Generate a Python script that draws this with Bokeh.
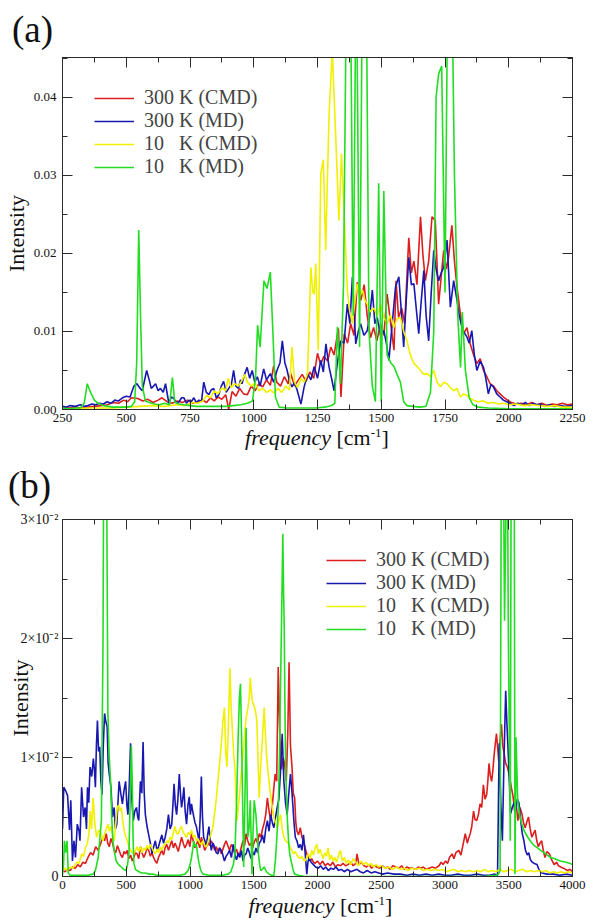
from bokeh.plotting import figure
from bokeh.models import (Legend, LegendItem, LinearAxis, SingleIntervalTicker, Div,
                          NumeralTickFormatter, CustomJSTickFormatter, Range1d, ColumnDataSource)
from bokeh.layouts import column
from bokeh.embed import file_html
from bokeh.resources import INLINE

FONT = "Liberation Serif"

SERIES_LABELS = ["300 K (CMD)", "300 K (MD)", "10\u00a0\u00a0\u00a0K (CMD)", "10\u00a0\u00a0\u00a0K (MD)"]
SERIES_COLORS = ["#dc1e1e", "#1818b0", "#f0f000", "#22dd22"]
Y_TITLE = "Intensity"
X_TITLE_ITALIC = "frequency"
X_TITLE_UNIT = "[cm"
X_TITLE_SUP = "-1"
PANEL_LETTERS = ["(a)", "(b)"]

# ---------------- panel (a): (frequency cm^-1, intensity) ----------------
RED_A = [(250,0.0003),(275,0.0002),(300,0.0003),(325,0.0002),(350,0.0003),(375,0.0004),(400,0.0005),
 (425,0.0006),(450,0.0009),(470,0.0008),(490,0.0012),(505,0.0010),(520,0.0015),(545,0.0014),(565,0.0011),
 (585,0.0013),(605,0.0009),(625,0.0012),(640,0.0015),(660,0.0010),(680,0.0008),(700,0.0011),(720,0.0009),
 (740,0.0012),(760,0.0008),(780,0.0010),(800,0.0012),(815,0.0009),(830,0.0015),(845,0.0011),(860,0.0016),
 (875,0.0013),(890,0.0019),(902,0.0000),(915,0.0023),(930,0.0017),(945,0.0027),(960,0.0020),(975,0.0019),
 (990,0.0030),(1005,0.0024),(1020,0.0033),(1035,0.0029),(1050,0.0038),(1065,0.0031),(1078,0.0056),
 (1090,0.0035),(1105,0.0030),(1120,0.0042),(1135,0.0033),(1145,0.0046),(1160,0.0030),(1175,0.0038),
 (1190,0.0045),(1205,0.0036),(1220,0.0048),(1235,0.0040),(1250,0.0072),(1262,0.0058),(1275,0.0068),
 (1290,0.0062),(1302,0.0080),(1315,0.0070),(1332,0.0104),(1342,0.0016),(1355,0.0097),(1368,0.0085),
 (1380,0.0110),(1393,0.0095),(1406,0.0163),(1420,0.0140),(1433,0.0160),(1445,0.0120),(1458,0.0092),
 (1470,0.0105),(1483,0.0088),(1497,0.0110),(1510,0.0095),(1523,0.0148),(1537,0.0110),(1550,0.0076),
 (1558,0.0165),(1568,0.0118),(1580,0.0130),(1592,0.0110),(1608,0.0220),(1618,0.0175),(1628,0.0190),
 (1640,0.0160),(1654,0.0247),(1663,0.0200),(1673,0.0165),(1686,0.0190),(1699,0.0247),(1712,0.0242),
 (1725,0.0135),(1735,0.0170),(1745,0.0204),(1755,0.0180),(1764,0.0195),(1777,0.0236),(1787,0.0190),
 (1797,0.0157),(1810,0.0123),(1823,0.0097),(1836,0.0105),(1849,0.0084),(1862,0.0070),(1875,0.0059),
 (1888,0.0065),(1901,0.0050),(1914,0.0042),(1927,0.0033),(1940,0.0030),(1953,0.0024),(1966,0.0020),
 (1979,0.0016),(1995,0.0012),(2010,0.0009),(2030,0.0007),(2050,0.0008),(2070,0.0006),(2090,0.0009),
 (2110,0.0006),(2130,0.0008),(2150,0.0005),(2170,0.0007),(2190,0.0006),(2210,0.0008),(2230,0.0006),
 (2250,0.0007)]

BLUE_A = [(250,0.0004),(265,0.0003),(280,0.0005),(300,0.0004),(320,0.0006),(335,0.0004),(350,0.0005),
 (365,0.0007),(380,0.0006),(395,0.0008),(410,0.0007),(425,0.0010),(440,0.0008),(455,0.0012),(470,0.0011),
 (485,0.0015),(500,0.0017),(515,0.0016),(530,0.0030),(542,0.0033),(552,0.0028),(563,0.0024),(580,0.0050),
 (590,0.0038),(598,0.0027),(607,0.0030),(615,0.0033),(625,0.0024),(634,0.0027),(645,0.0022),(654,0.0033),
 (667,0.0008),(677,0.0016),(687,0.0014),(697,0.0008),(707,0.0010),(717,0.0015),(726,0.0015),(736,0.0008),
 (746,0.0012),(755,0.0010),(765,0.0015),(775,0.0009),(785,0.0012),(795,0.0010),(804,0.0035),(814,0.0022),
 (824,0.0019),(833,0.0025),(843,0.0027),(853,0.0015),(863,0.0019),(873,0.0030),(882,0.0036),(892,0.0022),
 (902,0.0027),(912,0.0032),(921,0.0050),(930,0.0030),(940,0.0027),(948,0.0038),(954,0.0033),(964,0.0045),
 (974,0.0054),(984,0.0040),(994,0.0050),(1004,0.0035),(1014,0.0042),(1025,0.0030),(1039,0.0052),
 (1050,0.0038),(1065,0.0046),(1078,0.0035),(1091,0.0050),(1103,0.0060),(1112,0.0088),(1122,0.0060),
 (1131,0.0050),(1141,0.0035),(1150,0.0029),(1160,0.0035),(1170,0.0025),(1185,0.0007),(1197,0.0028),
 (1211,0.0046),(1224,0.0038),(1237,0.0055),(1250,0.0040),(1263,0.0063),(1273,0.0048),(1283,0.0084),
 (1295,0.0055),(1305,0.0040),(1315,0.0024),(1328,0.0060),(1341,0.0088),(1354,0.0085),(1367,0.0135),
 (1377,0.0110),(1387,0.0170),(1400,0.0084),(1410,0.0100),(1419,0.0110),(1432,0.0095),(1445,0.0101),
 (1455,0.0120),(1465,0.0153),(1475,0.0110),(1484,0.0118),(1497,0.0095),(1510,0.0101),(1520,0.0085),
 (1530,0.0063),(1543,0.0110),(1556,0.0157),(1569,0.0170),(1580,0.0120),(1588,0.0080),(1598,0.0140),
 (1608,0.0195),(1618,0.0160),(1628,0.0161),(1637,0.0130),(1647,0.0097),(1657,0.0140),(1667,0.0178),
 (1676,0.0120),(1686,0.0088),(1696,0.0150),(1706,0.0204),(1715,0.0180),(1725,0.0165),(1735,0.0175),
 (1745,0.0182),(1758,0.0217),(1771,0.0131),(1784,0.0165),(1797,0.0140),(1806,0.0120),(1816,0.0106),
 (1826,0.0098),(1836,0.0093),(1845,0.0085),(1855,0.0101),(1865,0.0070),(1875,0.0050),(1888,0.0062),
 (1901,0.0054),(1910,0.0040),(1920,0.0020),(1930,0.0032),(1940,0.0029),(1953,0.0020),(1966,0.0016),
 (1979,0.0012),(1992,0.0010),(2005,0.0008),(2020,0.0005),(2035,0.0008),(2050,0.0006),(2065,0.0009),
 (2080,0.0005),(2095,0.0008),(2110,0.0006),(2125,0.0007),(2140,0.0004),(2160,0.0006),(2180,0.0004),
 (2200,0.0005),(2220,0.0004),(2250,0.0005)]

YELLOW_A = [(250,0.0001),(300,0.0001),(350,0.0002),(400,0.0002),(450,0.0002),(500,0.0003),(550,0.0004),
 (600,0.0005),(650,0.0004),(700,0.0006),(730,0.0005),(760,0.0009),(780,0.0008),(800,0.0011),(815,0.0018),
 (830,0.0015),(845,0.0024),(860,0.0020),(875,0.0028),(890,0.0024),(900,0.0040),(912,0.0028),(925,0.0033),
 (940,0.0030),(955,0.0038),(965,0.0045),(975,0.0035),(990,0.0030),(1005,0.0034),(1020,0.0024),
 (1035,0.0027),(1050,0.0022),(1065,0.0025),(1080,0.0021),(1095,0.0027),(1110,0.0022),(1125,0.0030),
 (1140,0.0025),(1150,0.0080),(1160,0.0035),(1172,0.0028),(1185,0.0040),(1198,0.0035),(1211,0.0046),
 (1224,0.0182),(1232,0.0150),(1237,0.0148),(1243,0.0187),(1253,0.0076),(1263,0.0302),(1273,0.0320),
 (1282,0.0204),(1295,0.0375),(1308,0.0460),(1321,0.0353),(1334,0.0242),(1344,0.0328),(1354,0.0255),
 (1367,0.0153),(1377,0.0125),(1387,0.0110),(1397,0.0140),(1406,0.0161),(1416,0.0145),(1426,0.0153),
 (1436,0.0140),(1445,0.0135),(1458,0.0125),(1471,0.0130),(1484,0.0120),(1497,0.0135),(1510,0.0118),
 (1523,0.0110),(1536,0.0121),(1549,0.0105),(1562,0.0116),(1575,0.0118),(1588,0.0100),(1601,0.0088),
 (1614,0.0070),(1628,0.0059),(1641,0.0055),(1654,0.0050),(1667,0.0045),(1680,0.0046),(1693,0.0042),
 (1706,0.0050),(1719,0.0035),(1732,0.0029),(1745,0.0035),(1758,0.0033),(1771,0.0028),(1784,0.0024),
 (1797,0.0027),(1810,0.0016),(1823,0.0020),(1836,0.0018),(1849,0.0014),(1862,0.0012),(1880,0.0010),
 (1900,0.0011),(1920,0.0008),(1940,0.0009),(1960,0.0007),(1980,0.0008),(2000,0.0006),(2030,0.0007),
 (2060,0.0005),(2090,0.0006),(2120,0.0005),(2150,0.0004),(2180,0.0005),(2210,0.0003),(2250,0.0003)]

GREEN_A = [(250,0.0002),(275,0.0001),(300,0.0002),(320,0.0002),(335,0.0008),(347,0.0033),(360,0.0022),
 (375,0.0012),(390,0.0008),(410,0.0005),(430,0.0004),(450,0.0003),(475,0.0003),(500,0.0003),(520,0.0004),
 (533,0.0010),(541,0.0060),(549,0.0230),(556,0.0120),(563,0.0030),(575,0.0011),(590,0.0009),(610,0.0007),
 (630,0.0006),(650,0.0008),(670,0.0006),(681,0.0041),(690,0.0010),(705,0.0007),(725,0.0006),(750,0.0005),
 (775,0.0004),(800,0.0004),(830,0.0004),(860,0.0004),(890,0.0004),(920,0.0005),(950,0.0006),(975,0.0008),
 (995,0.0011),(1007,0.0040),(1015,0.0108),(1025,0.0080),(1040,0.0165),(1052,0.0155),(1065,0.0176),
 (1075,0.0100),(1085,0.0016),(1100,0.0003),(1130,0.0002),(1160,0.0002),(1200,0.0002),(1240,0.0002),
 (1280,0.0003),(1305,0.0005),(1318,0.0008),(1328,0.0106),(1340,0.0033),(1352,0.0160),(1365,0.0600),
 (1378,0.0600),(1390,0.0120),(1402,0.0600),(1415,0.0080),(1427,0.0600),(1440,0.0600),(1452,0.0100),
 (1465,0.0030),(1477,0.0010),(1490,0.0290),(1500,0.0010),(1510,0.0280),(1523,0.0070),(1537,0.0060),
 (1550,0.0055),(1562,0.0045),(1575,0.0035),(1588,0.0010),(1600,0.0005),(1625,0.0004),(1650,0.0003),
 (1675,0.0004),(1693,0.0022),(1706,0.0100),(1715,0.0400),(1725,0.0430),(1737,0.0440),(1750,0.0150),
 (1762,0.0600),(1775,0.0600),(1787,0.0300),(1800,0.0120),(1811,0.0054),(1818,0.0125),(1830,0.0050),
 (1845,0.0015),(1860,0.0006),(1880,0.0003),(1920,0.0002),(2000,0.0001),(2100,0.0001),(2250,0.0001)]

# ---------------- panel (b) ----------------
RED_B = [(0,0.0005),(20,0.0004),(40,0.0006),(60,0.0005),(80,0.0008),(100,0.0007),(120,0.0010),(140,0.0008),
 (160,0.0012),(180,0.0011),(200,0.0016),(220,0.0020),(240,0.0018),(260,0.0025),(280,0.0022),(300,0.0028),
 (317,0.0033),(330,0.0030),(343,0.0036),(355,0.0028),(367,0.0025),(380,0.0032),(393,0.0028),(405,0.0022),
 (418,0.0020),(430,0.0026),(444,0.0022),(457,0.0018),(470,0.0016),(483,0.0021),(495,0.0019),(508,0.0022),
 (520,0.0015),(535,0.0018),(547,0.0013),(560,0.0016),(572,0.0020),(585,0.0019),(598,0.0015),(611,0.0025),
 (624,0.0020),(637,0.0016),(650,0.0019),(663,0.0024),(676,0.0022),(689,0.0017),(702,0.0020),(714,0.0016),
 (727,0.0013),(740,0.0011),(753,0.0016),(766,0.0019),(779,0.0022),(792,0.0018),(805,0.0024),(818,0.0027),
 (831,0.0022),(844,0.0026),(857,0.0030),(870,0.0024),(882,0.0028),(895,0.0025),(908,0.0021),(921,0.0027),
 (934,0.0033),(947,0.0028),(960,0.0024),(973,0.0027),(986,0.0031),(999,0.0025),(1012,0.0036),(1025,0.0030),
 (1038,0.0024),(1050,0.0027),(1063,0.0030),(1076,0.0024),(1089,0.0033),(1102,0.0028),(1115,0.0022),
 (1128,0.0025),(1141,0.0029),(1154,0.0026),(1167,0.0030),(1180,0.0027),(1193,0.0022),(1206,0.0025),
 (1219,0.0021),(1232,0.0024),(1245,0.0019),(1258,0.0023),(1271,0.0027),(1283,0.0030),(1296,0.0026),
 (1310,0.0022),(1325,0.0027),(1339,0.0024),(1352,0.0020),(1365,0.0023),(1378,0.0017),(1390,0.0019),
 (1403,0.0025),(1416,0.0030),(1428,0.0026),(1440,0.0036),(1453,0.0030),(1466,0.0026),(1478,0.0028),
 (1491,0.0024),(1504,0.0029),(1517,0.0032),(1530,0.0028),(1543,0.0036),(1556,0.0033),(1569,0.0040),
 (1582,0.0045),(1594,0.0052),(1607,0.0066),(1620,0.0055),(1633,0.0047),(1646,0.0060),(1658,0.0075),
 (1668,0.0086),(1680,0.0080),(1692,0.0176),(1705,0.0117),(1718,0.0090),(1730,0.0100),(1742,0.0095),
 (1755,0.0080),(1767,0.0120),(1777,0.0180),(1788,0.0110),(1800,0.0092),(1810,0.0070),(1821,0.0066),
 (1830,0.0045),(1839,0.0038),(1852,0.0035),(1865,0.0041),(1878,0.0033),(1890,0.0030),(1903,0.0024),
 (1916,0.0019),(1929,0.0016),(1942,0.0013),(1955,0.0015),(1968,0.0012),(1980,0.0011),(2000,0.0013),
 (2020,0.0010),(2040,0.0013),(2060,0.0009),(2080,0.0011),(2100,0.0009),(2120,0.0012),(2140,0.0008),
 (2160,0.0010),(2180,0.0009),(2200,0.0011),(2220,0.0009),(2240,0.0010),(2260,0.0012),(2280,0.0009),
 (2300,0.0011),(2310,0.0019),(2325,0.0010),(2345,0.0012),(2365,0.0009),(2385,0.0008),(2405,0.0010),
 (2425,0.0007),(2445,0.0009),(2465,0.0008),(2488,0.0007),(2510,0.0009),(2530,0.0007),(2550,0.0008),
 (2570,0.0006),(2590,0.0009),(2617,0.0008),(2640,0.0007),(2660,0.0009),(2680,0.0006),(2700,0.0008),
 (2720,0.0007),(2746,0.0007),(2770,0.0006),(2790,0.0008),(2810,0.0007),(2830,0.0008),(2850,0.0006),
 (2875,0.0007),(2900,0.0008),(2925,0.0007),(2953,0.0009),(2970,0.0012),(2985,0.0010),(3004,0.0013),
 (3020,0.0011),(3035,0.0016),(3056,0.0019),(3070,0.0015),(3085,0.0020),(3108,0.0022),(3125,0.0018),
 (3140,0.0026),(3159,0.0036),(3175,0.0028),(3185,0.0032),(3198,0.0036),(3210,0.0042),(3224,0.0055),
 (3235,0.0048),(3249,0.0047),(3262,0.0052),(3275,0.0061),(3288,0.0058),(3301,0.0077),(3314,0.0065),
 (3327,0.0069),(3336,0.0080),(3345,0.0095),(3355,0.0085),(3366,0.0080),(3376,0.0090),(3386,0.0103),
 (3395,0.0112),(3404,0.0120),(3413,0.0108),(3422,0.0097),(3432,0.0115),(3443,0.0128),(3453,0.0110),
 (3464,0.0103),(3476,0.0095),(3489,0.0092),(3505,0.0085),(3520,0.0075),(3533,0.0068),(3546,0.0055),
 (3559,0.0060),(3572,0.0047),(3588,0.0058),(3603,0.0053),(3616,0.0045),(3629,0.0041),(3642,0.0046),
 (3655,0.0050),(3668,0.0040),(3681,0.0033),(3694,0.0036),(3707,0.0039),(3720,0.0030),(3732,0.0025),
 (3745,0.0028),(3758,0.0030),(3771,0.0022),(3784,0.0016),(3800,0.0021),(3818,0.0019),(3837,0.0014),
 (3856,0.0010),(3875,0.0012),(3890,0.0009),(3908,0.0008),(3930,0.0007),(3960,0.0005),(3980,0.0006),
 (4000,0.0004)]

BLUE_B = [(0,0.0040),(10,0.0075),(25,0.0072),(40,0.0068),(55,0.0039),(65,0.0064),(78,0.0013),(90,0.0030),
 (102,0.0016),(116,0.0044),(130,0.0038),(137,0.0030),(150,0.0075),(165,0.0050),(178,0.0058),(188,0.0040),
 (196,0.0075),(206,0.0062),(216,0.0092),(229,0.0084),(242,0.0099),(250,0.0090),(258,0.0075),(266,0.0110),
 (274,0.0131),(283,0.0105),(292,0.0109),(301,0.0080),(310,0.0069),(320,0.0110),(330,0.0137),(340,0.0130),
 (350,0.0126),(358,0.0095),(367,0.0086),(380,0.0075),(392,0.0050),(405,0.0058),(415,0.0040),(426,0.0044),
 (435,0.0062),(444,0.0080),(457,0.0070),(470,0.0061),(482,0.0072),(495,0.0080),(505,0.0060),(513,0.0052),
 (523,0.0075),(534,0.0112),(544,0.0065),(555,0.0047),(567,0.0055),(580,0.0058),(590,0.0050),(598,0.0047),
 (611,0.0080),(622,0.0070),(632,0.0113),(641,0.0070),(650,0.0052),(663,0.0042),(676,0.0035),(689,0.0028),
 (702,0.0019),(715,0.0025),(728,0.0030),(741,0.0022),(753,0.0025),(766,0.0030),(779,0.0035),(792,0.0028),
 (805,0.0033),(818,0.0040),(831,0.0052),(844,0.0040),(857,0.0044),(866,0.0060),(875,0.0078),(885,0.0060),
 (895,0.0052),(905,0.0065),(916,0.0086),(925,0.0070),(934,0.0058),(943,0.0065),(952,0.0075),(962,0.0055),
 (973,0.0044),(984,0.0060),(994,0.0067),(1003,0.0052),(1012,0.0061),(1021,0.0055),(1030,0.0050),
 (1040,0.0045),(1050,0.0042),(1060,0.0036),(1071,0.0030),(1080,0.0050),(1089,0.0084),(1098,0.0050),
 (1107,0.0033),(1117,0.0030),(1128,0.0025),(1138,0.0035),(1149,0.0042),(1158,0.0030),(1167,0.0022),
 (1180,0.0028),(1193,0.0025),(1206,0.0020),(1219,0.0019),(1232,0.0024),(1245,0.0022),(1258,0.0018),
 (1270,0.0013),(1283,0.0017),(1296,0.0019),(1310,0.0022),(1325,0.0016),(1339,0.0027),(1352,0.0018),
 (1365,0.0014),(1378,0.0020),(1390,0.0016),(1403,0.0022),(1416,0.0013),(1428,0.0018),(1440,0.0019),
 (1453,0.0024),(1466,0.0020),(1478,0.0015),(1491,0.0021),(1504,0.0018),(1517,0.0024),(1530,0.0020),
 (1543,0.0028),(1556,0.0030),(1568,0.0035),(1581,0.0028),(1594,0.0040),(1607,0.0047),(1620,0.0038),
 (1633,0.0052),(1646,0.0045),(1658,0.0041),(1671,0.0050),(1684,0.0058),(1697,0.0065),(1710,0.0089),
 (1723,0.0120),(1736,0.0080),(1749,0.0062),(1762,0.0052),(1775,0.0070),(1788,0.0086),(1797,0.0075),
 (1806,0.0061),(1816,0.0045),(1826,0.0033),(1839,0.0030),(1852,0.0024),(1865,0.0027),(1878,0.0022),
 (1890,0.0035),(1903,0.0020),(1916,0.0002),(1925,0.0012),(1934,0.0016),(1950,0.0012),(1968,0.0010),
 (1985,0.0008),(2006,0.0007),(2025,0.0009),(2045,0.0006),(2065,0.0008),(2085,0.0005),(2105,0.0007),
 (2125,0.0006),(2145,0.0008),(2165,0.0005),(2186,0.0006),(2210,0.0004),(2235,0.0006),(2260,0.0004),
 (2285,0.0005),(2310,0.0006),(2335,0.0004),(2360,0.0003),(2390,0.0005),(2420,0.0003),(2450,0.0004),
 (2480,0.0003),(2510,0.0002),(2550,0.0003),(2600,0.0002),(2650,0.0002),(2700,0.0001),(2750,0.0002),
 (2800,0.0001),(2850,0.0002),(2900,0.0001),(2950,0.0002),(3000,0.0001),(3050,0.0001),(3100,0.0002),
 (3150,0.0001),(3200,0.0001),(3250,0.0002),(3300,0.0001),(3350,0.0001),(3390,0.0002),(3412,0.0001),
 (3425,0.0112),(3438,0.0060),(3450,0.0030),(3463,0.0100),(3476,0.0156),(3487,0.0125),(3497,0.0101),
 (3508,0.0070),(3515,0.0053),(3528,0.0058),(3541,0.0062),(3555,0.0055),(3567,0.0065),(3580,0.0062),
 (3593,0.0048),(3606,0.0036),(3619,0.0030),(3631,0.0022),(3645,0.0018),(3657,0.0020),(3670,0.0014),
 (3685,0.0012),(3700,0.0011),(3722,0.0010),(3740,0.0005),(3760,0.0003),(3800,0.0002),(3850,0.0002),
 (3900,0.0001),(3950,0.0002),(4000,0.0001)]

YELLOW_B = [(0,0.0005),(20,0.0007),(40,0.0005),(60,0.0008),(80,0.0007),(100,0.0010),(115,0.0012),
 (130,0.0011),(150,0.0019),(165,0.0017),(180,0.0024),(195,0.0028),(208,0.0036),(217,0.0055),(228,0.0040),
 (240,0.0066),(253,0.0045),(267,0.0033),(280,0.0038),(292,0.0039),(305,0.0035),(317,0.0030),(330,0.0036),
 (343,0.0040),(356,0.0044),(368,0.0038),(380,0.0042),(393,0.0035),(405,0.0030),(418,0.0045),(430,0.0058),
 (440,0.0060),(450,0.0055),(462,0.0058),(472,0.0047),(483,0.0039),(495,0.0034),(508,0.0030),(521,0.0025),
 (534,0.0022),(547,0.0020),(560,0.0019),(573,0.0022),(586,0.0025),(598,0.0021),(611,0.0025),(624,0.0020),
 (637,0.0024),(650,0.0022),(663,0.0026),(676,0.0023),(689,0.0027),(702,0.0024),(715,0.0021),(728,0.0019),
 (741,0.0023),(753,0.0020),(766,0.0025),(779,0.0022),(792,0.0026),(805,0.0027),(818,0.0030),(831,0.0028),
 (844,0.0033),(857,0.0031),(870,0.0037),(882,0.0042),(895,0.0036),(908,0.0036),(921,0.0040),(934,0.0042),
 (947,0.0037),(960,0.0035),(973,0.0033),(986,0.0037),(999,0.0035),(1012,0.0039),(1025,0.0033),
 (1038,0.0035),(1050,0.0030),(1063,0.0032),(1076,0.0028),(1089,0.0027),(1102,0.0030),(1115,0.0026),
 (1128,0.0025),(1141,0.0029),(1154,0.0033),(1167,0.0036),(1180,0.0042),(1193,0.0053),(1206,0.0065),
 (1219,0.0080),(1232,0.0095),(1245,0.0111),(1258,0.0130),(1270,0.0142),(1280,0.0105),(1290,0.0092),
 (1302,0.0130),(1313,0.0175),(1324,0.0140),(1334,0.0120),(1344,0.0100),(1352,0.0092),(1361,0.0065),
 (1370,0.0047),(1380,0.0060),(1390,0.0070),(1400,0.0085),(1411,0.0097),(1421,0.0110),(1432,0.0125),
 (1443,0.0135),(1455,0.0142),(1464,0.0150),(1473,0.0167),(1481,0.0155),(1488,0.0148),(1497,0.0145),
 (1506,0.0142),(1515,0.0138),(1524,0.0131),(1533,0.0100),(1543,0.0066),(1553,0.0090),(1564,0.0109),
 (1573,0.0125),(1582,0.0142),(1591,0.0120),(1600,0.0103),(1610,0.0090),(1620,0.0080),(1630,0.0070),
 (1641,0.0061),(1650,0.0055),(1658,0.0050),(1671,0.0045),(1684,0.0041),(1697,0.0047),(1710,0.0052),
 (1723,0.0040),(1736,0.0033),(1750,0.0030),(1762,0.0029),(1775,0.0027),(1788,0.0024),(1800,0.0022),
 (1813,0.0019),(1826,0.0021),(1839,0.0018),(1852,0.0016),(1865,0.0015),(1878,0.0017),(1890,0.0014),
 (1903,0.0013),(1916,0.0016),(1929,0.0019),(1942,0.0015),(1955,0.0022),(1968,0.0018),(1981,0.0024),
 (1994,0.0027),(2007,0.0019),(2020,0.0023),(2032,0.0019),(2045,0.0015),(2058,0.0020),(2070,0.0017),
 (2083,0.0024),(2096,0.0014),(2110,0.0018),(2122,0.0013),(2135,0.0016),(2150,0.0012),(2165,0.0018),
 (2180,0.0022),(2195,0.0013),(2210,0.0016),(2225,0.0011),(2240,0.0014),(2260,0.0010),(2280,0.0015),
 (2300,0.0012),(2320,0.0009),(2340,0.0013),(2360,0.0010),(2380,0.0012),(2400,0.0009),(2420,0.0011),
 (2440,0.0008),(2460,0.0010),(2480,0.0008),(2500,0.0009),(2530,0.0007),(2560,0.0008),(2590,0.0006),
 (2620,0.0008),(2650,0.0006),(2680,0.0007),(2710,0.0005),(2740,0.0007),(2770,0.0006),(2800,0.0007),
 (2830,0.0005),(2860,0.0006),(2890,0.0005),(2920,0.0006),(2950,0.0005),(2980,0.0006),(3010,0.0004),
 (3040,0.0005),(3070,0.0006),(3100,0.0004),(3130,0.0005),(3160,0.0004),(3190,0.0005),(3220,0.0004),
 (3250,0.0005),(3280,0.0004),(3310,0.0006),(3340,0.0004),(3370,0.0005),(3400,0.0004),(3430,0.0006),
 (3460,0.0004),(3490,0.0005),(3520,0.0006),(3550,0.0004),(3580,0.0005),(3610,0.0006),(3640,0.0004),
 (3670,0.0005),(3700,0.0004),(3730,0.0005),(3760,0.0004),(3790,0.0005),(3820,0.0003),(3850,0.0004),
 (3880,0.0003),(3910,0.0004),(3940,0.0003),(3970,0.0004),(4000,0.0003)]

GREEN_B = [(0,0.0001),(8,0.0010),(15,0.0030),(25,0.0020),(36,0.0030),(45,0.0003),(60,0.0001),(100,0.0001),
 (150,0.0001),(200,0.0001),(240,0.0002),(258,0.0005),(280,0.0016),(305,0.0047),(318,0.0200),(328,0.0500),
 (340,0.0500),(348,0.0300),(356,0.0137),(367,0.0100),(377,0.0080),(386,0.0050),(395,0.0030),(408,0.0020),
 (421,0.0013),(440,0.0010),(460,0.0008),(480,0.0006),(498,0.0005),(510,0.0010),(521,0.0019),(530,0.0060),
 (540,0.0110),(547,0.0080),(554,0.0030),(560,0.0011),(572,0.0006),(585,0.0005),(600,0.0004),(620,0.0003),
 (650,0.0003),(680,0.0002),(710,0.0002),(740,0.0001),(800,0.0001),(860,0.0001),(920,0.0001),(960,0.0002),
 (985,0.0005),(1000,0.0010),(1012,0.0016),(1020,0.0022),(1030,0.0030),(1040,0.0025),(1050,0.0027),
 (1060,0.0018),(1071,0.0011),(1085,0.0005),(1102,0.0002),(1150,0.0001),(1200,0.0001),(1250,0.0001),
 (1300,0.0002),(1320,0.0004),(1340,0.0010),(1352,0.0019),(1365,0.0060),(1378,0.0117),(1387,0.0150),
 (1396,0.0162),(1404,0.0120),(1411,0.0075),(1421,0.0008),(1430,0.0060),(1440,0.0125),(1447,0.0080),
 (1453,0.0033),(1463,0.0040),(1473,0.0064),(1480,0.0030),(1486,0.0002),(1495,0.0040),(1504,0.0064),
 (1510,0.0058),(1517,0.0052),(1527,0.0035),(1537,0.0019),(1546,0.0010),(1555,0.0005),(1568,0.0006),
 (1581,0.0008),(1600,0.0004),(1620,0.0002),(1640,0.0001),(1658,0.0001),(1671,0.0015),(1684,0.0038),
 (1693,0.0060),(1702,0.0103),(1710,0.0160),(1718,0.0215),(1728,0.0288),(1734,0.0240),(1739,0.0209),
 (1744,0.0150),(1749,0.0103),(1756,0.0070),(1764,0.0047),(1773,0.0030),(1782,0.0019),(1791,0.0014),
 (1800,0.0010),(1810,0.0005),(1821,0.0002),(1850,0.0001),(1900,0.0000),(2000,0.0000),(2500,0.0000),
 (3000,0.0000),(3300,0.0000),(3400,0.0001),(3420,0.0002),(3432,0.0005),(3443,0.0400),(3455,0.0400),
 (3467,0.0215),(3477,0.0300),(3487,0.0400),(3497,0.0200),(3505,0.0117),(3512,0.0030),(3520,0.0400),
 (3532,0.0400),(3542,0.0400),(3549,0.0002),(3557,0.0117),(3570,0.0065),(3585,0.0052),(3600,0.0045),
 (3622,0.0038),(3650,0.0033),(3675,0.0029),(3699,0.0026),(3725,0.0024),(3750,0.0022),(3775,0.0020),
 (3802,0.0018),(3830,0.0016),(3860,0.0015),(3905,0.0013),(3950,0.0012),(3982,0.0011),(4000,0.0010)]

X_RANGE_A = (250, 2250)
Y_RANGE_A = (0, 0.0451)
X_RANGE_B = (0, 4000)
Y_RANGE_B = (0, 0.03)

AX_COLOR = "#2a2a2a"
W = 590
CSS_FONT = "font-family:'Liberation Serif',serif;color:#111111;"


def style_axis(ax, show_labels=True, standoff=5, fs="13px"):
    ax.axis_line_color = AX_COLOR
    ax.axis_line_width = 1
    ax.major_tick_line_color = AX_COLOR
    ax.minor_tick_line_color = AX_COLOR
    ax.major_tick_in = 10
    ax.major_tick_out = 0
    ax.minor_tick_in = 5
    ax.minor_tick_out = 0
    ax.major_label_text_font = FONT
    ax.major_label_text_font_size = fs
    ax.major_label_text_color = "#111111"
    ax.major_label_standoff = standoff
    if not show_labels:
        ax.formatter = CustomJSTickFormatter(code="return '';")
        ax.major_label_text_font_size = "0px"
        ax.major_label_standoff = 0


def make_panel(series, xr, yr, xint, yint, yfmt, height, borders, leg_loc,
               ylab_standoff, ylab_tick_standoff, ytick_fs):
    bl, br, bt, bb = borders
    p = figure(width=W, height=height, x_range=Range1d(*xr), y_range=Range1d(*yr),
               output_backend="svg", toolbar_location=None,
               min_border_left=bl, min_border_right=br, min_border_top=bt, min_border_bottom=bb)
    p.grid.visible = False
    p.outline_line_color = AX_COLOR
    p.background_fill_color = "white"
    p.border_fill_color = "white"

    p.xaxis.ticker = SingleIntervalTicker(interval=xint, num_minor_ticks=2)
    p.yaxis.ticker = SingleIntervalTicker(interval=yint, num_minor_ticks=2)
    p.yaxis.formatter = yfmt
    for ax in p.xaxis:
        style_axis(ax, standoff=4)
    for ax in p.yaxis:
        style_axis(ax, standoff=ylab_tick_standoff, fs=ytick_fs)
        ax.axis_label = Y_TITLE
        ax.axis_label_text_font = FONT
        ax.axis_label_text_font_size = "22px"
        ax.axis_label_text_font_style = "normal"
        ax.axis_label_text_color = "#111111"
        ax.axis_label_standoff = ylab_standoff

    top = LinearAxis(ticker=SingleIntervalTicker(interval=xint, num_minor_ticks=2))
    style_axis(top, show_labels=False)
    p.add_layout(top, "above")
    right = LinearAxis(ticker=SingleIntervalTicker(interval=yint, num_minor_ticks=2))
    style_axis(right, show_labels=False)
    p.add_layout(right, "right")

    items = []
    for (data, lab, col) in zip(series, SERIES_LABELS, SERIES_COLORS):
        src = ColumnDataSource(dict(x=[d[0] for d in data], y=[d[1] for d in data]))
        r = p.line("x", "y", source=src, line_color=col, line_width=1.6)
        items.append(LegendItem(label=lab, renderers=[r]))

    leg = Legend(items=items, location=leg_loc, glyph_width=40, glyph_height=20,
                 label_standoff=10, label_text_font=FONT, label_text_font_size="20px",
                 label_height=20, spacing=-1, padding=0, margin=0,
                 border_line_alpha=0, background_fill_alpha=0)
    p.add_layout(leg)
    return p


def abs_text(text, left, top, fs, extra=""):
    return ('<div style="position:absolute;left:%dpx;top:%dpx;font-size:%dpx;line-height:%dpx;'
            'white-space:nowrap;%s">%s</div>' % (left, top, fs, fs, extra, text))


def x_title_html(frame_left, frame_width, top):
    inner = ('<i>%s</i> %s<span style="font-size:13px;position:relative;top:-8px">%s</span>]'
             % (X_TITLE_ITALIC, X_TITLE_UNIT, X_TITLE_SUP))
    return abs_text(inner, frame_left, top, 22, "width:%dpx;text-align:center;" % frame_width)


def box(children_html, height):
    html = ('<div style="position:relative;width:%dpx;height:%dpx;%s">%s</div>'
            % (W, height, CSS_FONT, children_html))
    return Div(text=html, width=W, height=height, margin=0)


fmt_a = NumeralTickFormatter(format="0.00")
fmt_b = CustomJSTickFormatter(code="""
if (Math.abs(tick) < 1e-9) { return '0'; }
return Math.round(tick * 100) + '\u00d710\u207b\u00b2';
""")

# page rows: 0..50 letter (a) | 50..428 panel a | 428..508 x-title a + letter (b) | 508..895 panel b | 895..921 x-title b
div_top = box(abs_text(PANEL_LETTERS[0], 12, 11, 37), 50)
pa = make_panel([RED_A, BLUE_A, YELLOW_A, GREEN_A], X_RANGE_A, Y_RANGE_A, 250, 0.01, fmt_a,
                378, (62, W - 572, 7, 19), (32, 231), 2, 6, "13px")
div_mid = box(x_title_html(62, 510, -1) + abs_text(PANEL_LETTERS[1], 8, 39, 37), 80)
pb = make_panel([RED_B, BLUE_B, YELLOW_B, GREEN_B], X_RANGE_B, Y_RANGE_B, 500, 0.01, fmt_b,
                387, (62, W - 579, 11, 19), (264, 236), -16, 4, "14px")
div_bot = box(x_title_html(62, 517, 0), 26)

layout = column(div_top, pa, div_mid, pb, div_bot)
open("out.html", "w").write(file_html(layout, INLINE))
